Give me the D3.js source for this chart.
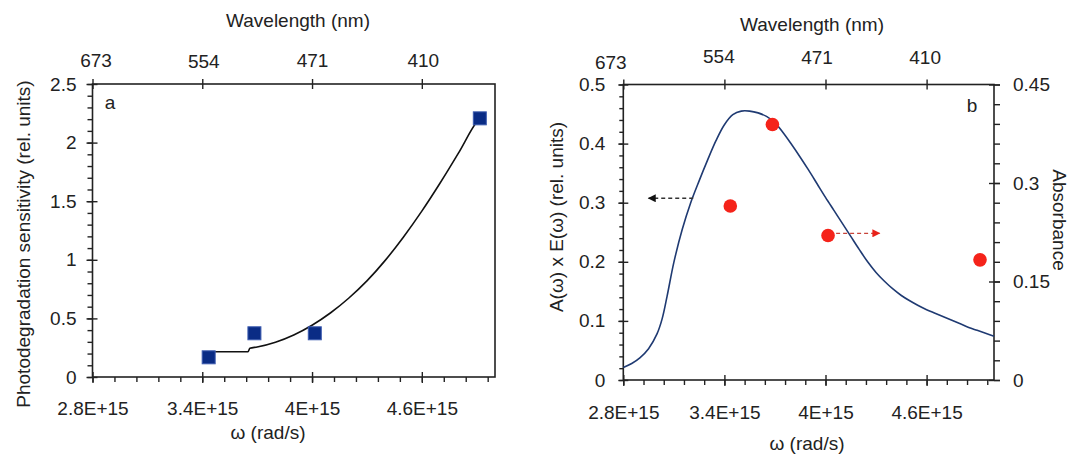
<!DOCTYPE html>
<html>
<head>
<meta charset="utf-8">
<script src="https://cdn.jsdelivr.net/npm/d3@7"></script>
<style>
  html, body { margin: 0; padding: 0; background: #fff; }
  svg { display: block; }
  text { font-family: Arial, "Liberation Sans", sans-serif; fill: #222; }
</style>
</head>
<body>
<svg id="chart" width="1084" height="455"></svg>
<script>
// ---------------- data ----------------
const omegaTicks = [2.8e15, 3.4e15, 4.0e15, 4.6e15];
const omegaTickLabels = ["2.8E+15", "3.4E+15", "4E+15", "4.6E+15"];
const wavelengthLabels = ["673", "554", "471", "410"];

// panel a: measured photodegradation sensitivity
const omegaSamples = [3.435e15, 3.685e15, 4.015e15, 4.917e15];
const sensitivity = [0.168, 0.373, 0.373, 2.207];

// panel a: fitted curve
const fitOmega = [3.435, 3.65, 3.66, 3.70, 3.80, 3.90, 4.00, 4.10, 4.20, 4.30, 4.40, 4.50, 4.60, 4.70, 4.80, 4.90, 4.917].map(v => v * 1e15);
const fitValue = [0.216, 0.216, 0.245, 0.256, 0.297, 0.359, 0.442, 0.546, 0.672, 0.820, 0.995, 1.195, 1.415, 1.655, 1.910, 2.175, 2.207];

// panel b: absorbance (right axis)
const absorbance = [0.265, 0.389, 0.220, 0.183];

// panel b: A(w) x E(w) curve (left axis)
const aeOmega = [2.80, 2.85, 2.90, 2.95, 3.00, 3.03, 3.06, 3.10, 3.15, 3.20, 3.25, 3.30, 3.35, 3.40, 3.45, 3.50, 3.55, 3.60, 3.65, 3.70, 3.75, 3.80, 3.85, 3.90, 3.95, 4.00, 4.05, 4.10, 4.15, 4.20, 4.25, 4.30, 4.35, 4.40, 4.45, 4.50, 4.55, 4.60, 4.65, 4.70, 4.75, 4.80, 4.85, 4.90, 4.95, 5.00].map(v => v * 1e15);
const aeValue = [0.021, 0.028, 0.038, 0.053, 0.078, 0.103, 0.142, 0.199, 0.255, 0.300, 0.337, 0.372, 0.405, 0.432, 0.449, 0.455, 0.455, 0.452, 0.446, 0.435, 0.418, 0.398, 0.377, 0.355, 0.332, 0.309, 0.287, 0.265, 0.243, 0.221, 0.200, 0.182, 0.167, 0.154, 0.143, 0.134, 0.126, 0.119, 0.113, 0.107, 0.101, 0.095, 0.089, 0.084, 0.079, 0.074];

const yTicksA = [0, 0.5, 1, 1.5, 2, 2.5];
const yTickLabelsA = ["0", "0.5", "1", "1.5", "2", "2.5"];
const yTicksB = [0, 0.1, 0.2, 0.3, 0.4, 0.5];
const yTickLabelsB = ["0", "0.1", "0.2", "0.3", "0.4", "0.5"];
const yTicksBR = [0, 0.15, 0.3, 0.45];
const yTickLabelsBR = ["0", "0.15", "0.3", "0.45"];

// ---------------- drawing ----------------
const svg = d3.select("#chart");
svg.append("rect").attr("width", 1084).attr("height", 455).attr("fill", "#fff");

const FS = 19;
const AX = "#222";

const defs = svg.append("defs");
function marker(id, color) {
  defs.append("marker").attr("id", id)
    .attr("viewBox", "0 0 10 10").attr("refX", 9).attr("refY", 5)
    .attr("markerWidth", 9).attr("markerHeight", 8).attr("markerUnits", "userSpaceOnUse")
    .attr("orient", "auto")
    .append("path").attr("d", "M0,0 L10,5 L0,10 Z").attr("fill", color);
}
marker("arrBlack", "#111");
marker("arrRed", "#e8221a");

function styleAxis(g) {
  g.select(".domain").remove();
  g.selectAll("line").attr("stroke", AX).attr("stroke-width", 1.4);
  g.selectAll("text").attr("font-size", FS).attr("fill", "#222")
    .attr("font-family", 'Arial, "Liberation Sans", sans-serif');
}

function frame(x0, x1, y0, y1) {
  svg.append("rect").attr("x", x0).attr("y", y1).attr("width", x1 - x0).attr("height", y0 - y1)
    .attr("fill", "none").attr("stroke", AX).attr("stroke-width", 1.6);
}

function xAxes(x, yBottom, yTop, labelOffset, topPad, topNudge) {
  const minors = d3.range(2.8e15, 5.0e15 + 1, 0.12e15);
  svg.append("g").attr("transform", `translate(0,${yBottom})`)
    .call(d3.axisBottom(x).tickValues(minors).tickSize(5).tickFormat(""))
    .call(styleAxis);
  const gb = svg.append("g").attr("transform", `translate(0,${yBottom})`)
    .call(d3.axisBottom(x).tickValues(omegaTicks).tickSize(6).tickPadding(labelOffset)
      .tickFormat((d, i) => omegaTickLabels[i]))
    .call(styleAxis);
  gb.selectAll("line").attr("y1", -5);
  const gt = svg.append("g").attr("transform", `translate(0,${yTop})`)
    .call(d3.axisTop(x).tickValues(omegaTicks).tickSize(5).tickPadding(topPad)
      .tickFormat((d, i) => wavelengthLabels[i]))
    .call(styleAxis);
  gt.selectAll("line").attr("y1", 5);
  gt.selectAll("text").attr("dx", (d, i) => topNudge[i][0]).attr("dy", (d, i) => topNudge[i][1]);
}

// ============ Panel a ============
const xa = d3.scaleLinear([2.8e15, 5.0e15], [92.5, 495]);
const ya = d3.scaleLinear([0, 2.5], [377, 84]);

frame(92.5, 495, 377, 84);
xAxes(xa, 377, 84, 19, 12, [[3, 0], [1, 1], [0, 0], [1, 0]]);

svg.append("g").attr("transform", "translate(92.5,0)")
  .call(d3.axisLeft(ya).tickValues(d3.range(0, 2.51, 0.1)).tickSize(5).tickFormat(""))
  .call(styleAxis);
const gya = svg.append("g").attr("transform", "translate(92.5,0)")
  .call(d3.axisLeft(ya).tickValues(yTicksA).tickSize(6).tickPadding(10)
    .tickFormat((d, i) => yTickLabelsA[i]))
  .call(styleAxis);
gya.selectAll("line").attr("x1", 5);

svg.append("path")
  .datum(fitOmega.map((w, i) => [w, fitValue[i]]))
  .attr("fill", "none").attr("stroke", "#111").attr("stroke-width", 1.6)
  .attr("d", d3.line().x(d => xa(d[0])).y(d => ya(d[1])).curve(d3.curveMonotoneX));

const SQ = 13;
svg.append("g").selectAll("rect")
  .data(omegaSamples.map((w, i) => [w, sensitivity[i]]))
  .join("rect")
  .attr("x", d => xa(d[0]) - SQ / 2).attr("y", d => ya(d[1]) - SQ / 2)
  .attr("width", SQ).attr("height", SQ)
  .attr("fill", "#0a2c85").attr("stroke", "#3d5cb0").attr("stroke-width", 1);

svg.append("text").attr("x", 110).attr("y", 109).attr("font-size", FS).attr("text-anchor", "middle").text("a");

svg.append("text").attr("x", 298).attr("y", 27).attr("font-size", FS).attr("text-anchor", "middle")
  .text("Wavelength (nm)");
svg.append("text").attr("x", 268).attr("y", 439).attr("font-size", FS).attr("text-anchor", "middle")
  .text("ω (rad/s)");
svg.append("text").attr("transform", "translate(30,244) rotate(-90)")
  .attr("font-size", FS).attr("text-anchor", "middle")
  .text("Photodegradation sensitivity (rel. units)");

// ============ Panel b ============
const xb = d3.scaleLinear([2.8e15, 5.0e15], [623.3, 994]);
const ybL = d3.scaleLinear([0, 0.5], [380, 84.5]);
const ybR = d3.scaleLinear([0, 0.45], [380, 84.5]);

frame(623.3, 994, 380, 84.5);
xAxes(xb, 380, 84.5, 20, 16, [[-13, 5], [-6, -1], [-9, 0], [-2, 0]]);

svg.append("g").attr("transform", "translate(623.3,0)")
  .call(d3.axisLeft(ybL).tickValues(d3.range(0, 0.501, 0.02)).tickSize(4).tickFormat(""))
  .call(styleAxis);
const gybl = svg.append("g").attr("transform", "translate(623.3,0)")
  .call(d3.axisLeft(ybL).tickValues(yTicksB).tickSize(5).tickPadding(13)
    .tickFormat((d, i) => yTickLabelsB[i]))
  .call(styleAxis);
gybl.selectAll("line").attr("x1", 5);

svg.append("g").attr("transform", "translate(994,0)")
  .call(d3.axisRight(ybR).tickValues(d3.range(0, 0.451, 0.03)).tickSize(6).tickFormat(""))
  .call(styleAxis);
const gybr = svg.append("g").attr("transform", "translate(994,0)")
  .call(d3.axisRight(ybR).tickValues(yTicksBR).tickSize(6).tickPadding(13)
    .tickFormat((d, i) => yTickLabelsBR[i]))
  .call(styleAxis);
gybr.selectAll("line").attr("x1", -5);

svg.append("path")
  .datum(aeOmega.map((w, i) => [w, aeValue[i]]))
  .attr("fill", "none").attr("stroke", "#1f3a72").attr("stroke-width", 1.6)
  .attr("d", d3.line().x(d => xb(d[0])).y(d => ybL(d[1])).curve(d3.curveCatmullRom.alpha(0.5)));

svg.append("g").selectAll("circle")
  .data(omegaSamples.map((w, i) => [w, absorbance[i]]))
  .join("circle")
  .attr("cx", d => xb(d[0])).attr("cy", d => ybR(d[1])).attr("r", 6.8)
  .attr("fill", "#f5231a");

svg.append("line")
  .attr("x1", xb(3.215e15)).attr("x2", xb(2.95e15))
  .attr("y1", ybL(0.3075)).attr("y2", ybL(0.3075))
  .attr("stroke", "#333").attr("stroke-width", 1.3).attr("stroke-dasharray", "4,3")
  .attr("marker-end", "url(#arrBlack)");
svg.append("line")
  .attr("x1", xb(4.063e15)).attr("x2", xb(4.321e15))
  .attr("y1", ybR(0.2234)).attr("y2", ybR(0.2234))
  .attr("stroke", "#c8433a").attr("stroke-width", 1.3).attr("stroke-dasharray", "4,3")
  .attr("marker-end", "url(#arrRed)");

svg.append("text").attr("x", 972).attr("y", 112).attr("font-size", FS).attr("text-anchor", "middle").text("b");

svg.append("text").attr("x", 812).attr("y", 31).attr("font-size", FS).attr("text-anchor", "middle")
  .text("Wavelength (nm)");
svg.append("text").attr("x", 807).attr("y", 450).attr("font-size", FS).attr("text-anchor", "middle")
  .text("ω (rad/s)");
svg.append("text").attr("transform", "translate(563,217) rotate(-90)")
  .attr("font-size", FS).attr("text-anchor", "middle")
  .text("A(ω) x E(ω)  (rel. units)");
svg.append("text").attr("transform", "translate(1053,220) rotate(90)")
  .attr("font-size", FS).attr("text-anchor", "middle")
  .text("Absorbance");
</script>
</body>
</html>
